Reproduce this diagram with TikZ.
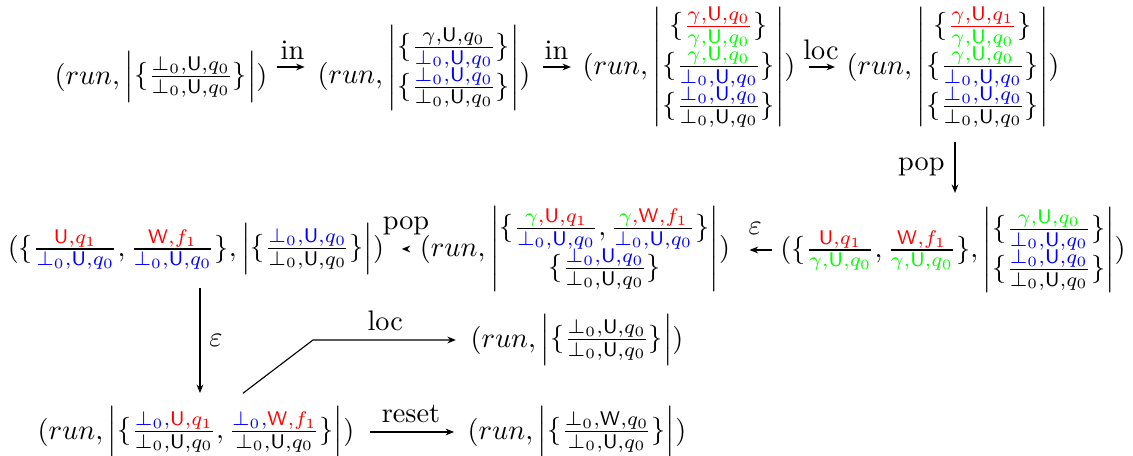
\documentclass[tikz,border=0pt]{standalone}
\usepackage{amsmath}
\usetikzlibrary{arrows.meta,calc}
\newcommand{\mU}{\mathsf{U}}
\newcommand{\mW}{\mathsf{W}}
\newcommand{\bq}{\bot_0,\mU,q_0}
\newcommand{\cR}[1]{{\color{red}#1}}
\newcommand{\cB}[1]{{\color{blue}#1}}
\newcommand{\cG}[1]{{\color{green}#1}}
\newcommand{\st}[1]{\left|\begin{array}{@{}c@{}}#1\end{array}\right|}
\begin{document}
\begin{tikzpicture}[x=0.354pt,y=-0.354pt,
  every node/.style={inner sep=0pt},
  lab/.style={inner sep=0pt,anchor=base},
  arr/.style={-{Stealth[length=3pt,width=2.4pt]},line width=0.4pt}]
\useasboundingbox (0,0) rectangle (1133,456);
% top row
\node (n1) at (161,77) {$(run, \st{\{\frac{\bq}{\bq}\}})$};
\node[anchor=base] (n2) at (424,84) {$(run, \raisebox{3.2pt}{$\st{\{\frac{\gamma,\mU,q_0}{\cB{\bq}}\}\\ \{\frac{\cB{\bq}}{\bq}\}}$})$};
\node (n3) at (689,67) {$(run, \st{\{{\color{red}\frac{\gamma,\mU,q_0}{\color{green}\gamma,\mU,q_0}}\}\\ \{\frac{\cG{\gamma,\mU,q_0}}{\cB{\bq}}\}\\ \{\frac{\cB{\bq}}{\bq}\}})$};
\node (n4) at (953,67) {$(run, \st{\{{\color{red}\frac{\gamma,\mU,q_1}{\color{green}\gamma,\mU,q_0}}\}\\ \{\frac{\cG{\gamma,\mU,q_0}}{\cB{\bq}}\}\\ \{\frac{\cB{\bq}}{\bq}\}})$};
% middle row
\node (n5) at (196,249) {$(\{\frac{\cR{\mU,q_1}}{\cB{\bq}}, \frac{\cR{\mW,f_1}}{\cB{\bq}}\}, \st{\{\frac{\cB{\bq}}{\bq}\}})$};
\node (n6) at (575,249) {$(run, \st{\{\frac{\cG{\gamma}\cR{,\mU,q_1}}{\cB{\bq}}, \frac{\cG{\gamma}\cR{,\mW,f_1}}{\cB{\bq}}\}\\ \{\frac{\cB{\bq}}{\bq}\}})$};
\node (n7) at (953,250) {$(\{\frac{\cR{\mU,q_1}}{\cG{\gamma,\mU,q_0}}, \frac{\cR{\mW,f_1}}{\cG{\gamma,\mU,q_0}}\}, \st{\{\frac{\cG{\gamma,\mU,q_0}}{\cB{\bq}}\}\\ \{\frac{\cB{\bq}}{\bq}\}})$};
% bottom
\node (n8) at (196,432) {$(run, \st{\{\frac{\cB{\bot_0,}\cR{\mU,q_1}}{\bq}, \frac{\cB{\bot_0,}\cR{\mW,f_1}}{\bq}\}})$};
\node (n9) at (577,432) {$(run, \st{\{\frac{\bot_0,\mW,q_0}{\bq}\}})$};
\node (n10) at (577,340) {$(run, \st{\{\frac{\bq}{\bq}\}})$};
\coordinate (bend) at (313,340);
% arrows
\draw[arr,shorten <=3pt,shorten >=4.4pt] (n3.west -| n1.east) -- (n3.west -| n2.west) node[lab,midway,yshift=2.5pt]{in};
\draw[arr,shorten <=4.4pt,shorten >=3.9pt] (n3.west -| n2.east) -- (n3.west) node[lab,midway,yshift=2.5pt]{in};
\draw[arr,shorten <=4.6pt,shorten >=3.9pt] (n3.east) -- (n3.east -| n4.west) node[lab,midway,yshift=2.5pt]{loc};
\draw[arr,shorten <=5pt,shorten >=5pt] ([xshift=0.7pt]n4.south) -- ([xshift=0.7pt]n4.south |- n7.north) node[midway,anchor=east,xshift=-3.5pt]{pop};
\draw[arr,shorten <=2.8pt,shorten >=6.7pt] (n7.west) -- (n7.west -| n6.east) node[lab,midway,yshift=5.5pt]{$\varepsilon$};
\draw[arr,shorten <=5pt,shorten >=6pt] (n6.west) -- (n6.west -| n5.east) node[lab,midway,xshift=1.4pt,yshift=7pt]{pop};
\draw[arr,shorten <=4.6pt,shorten >=4.6pt] ([xshift=1.4pt]n5.south) -- ([xshift=1.4pt]n5.south |- n8.north) node[midway,anchor=west,xshift=3.1pt]{$\varepsilon$};
\draw[arr,shorten <=5.3pt,shorten >=4.6pt] (n8.east) -- (n8.east -| n9.west) node[lab,midway,yshift=3.2pt]{reset};
\draw[arr,shorten >=5pt] ([xshift=16.6pt,yshift=4.5pt]n8.north) -- (bend) -- node[lab,pos=0.46,yshift=3.5pt]{loc} (n10.west);
\end{tikzpicture}
\end{document}
